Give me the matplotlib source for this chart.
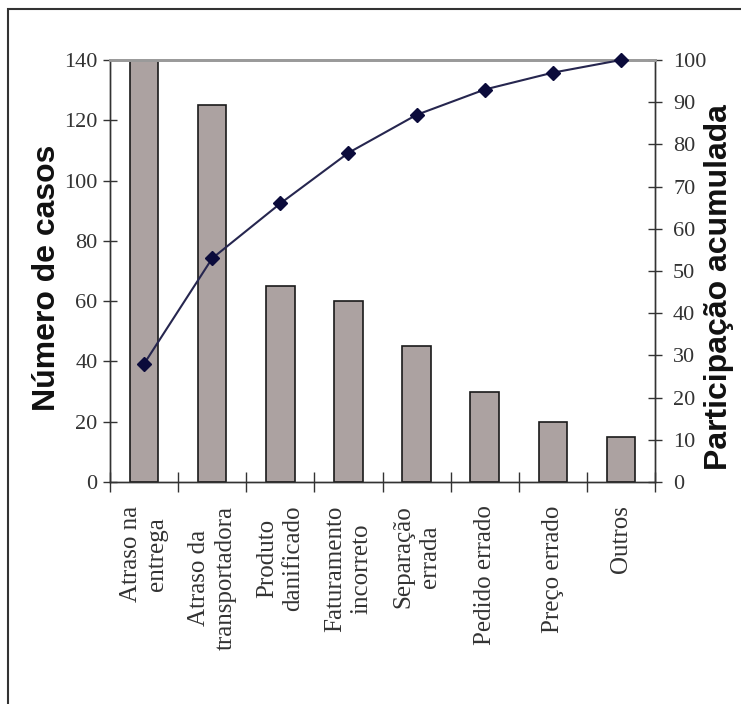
import numpy as np
import matplotlib.pyplot as plt
from matplotlib.patches import Rectangle

# Pareto data: complaint causes and number of cases
categorias = ["Atraso na\nentrega", "Atraso da\ntransportadora", "Produto\ndanificado",
              "Faturamento\nincorreto", "Separação\nerrada", "Pedido errado",
              "Preço errado", "Outros"]
casos = [140, 125, 65, 60, 45, 30, 20, 15]
acumulado = [28, 53, 66, 78, 87, 93, 97, 100]

serif = "Liberation Serif"
sans = "Liberation Sans"

fig = plt.figure(figsize=(7.41, 7.04), dpi=100)
ax = fig.add_axes([110/741, 1 - 482/704, 545/741, 422/704])
ax2 = ax.twinx()

x = np.arange(len(categorias))
ax.bar(x, casos, width=0.42, color="#aca2a1", edgecolor="#1a1a1a", linewidth=1.2, zorder=2)

ax.set_xlim(-0.5, len(categorias) - 0.5)
ax.set_ylim(0, 140)
ax.set_yticks(np.arange(0, 141, 20))
ax.set_yticklabels([str(v) for v in range(0, 141, 20)], fontfamily=serif, fontsize=16, color="#333333")

# ticks between categories, labels at the centres
ax.set_xticks(np.arange(-0.5, len(categorias)))
ax.set_xticklabels([])
ax.set_xticks(x, minor=True)
ax.set_xticklabels(categorias, minor=True, rotation=90, fontfamily=serif, fontsize=18,
                   color="#333333", va="top", ha="center", multialignment="center",
                   linespacing=1.25)
ax.tick_params(axis="x", which="major", direction="inout", length=15, width=1, color="#333333")
ax.tick_params(axis="x", which="minor", length=0, pad=17)
ax.tick_params(axis="y", direction="inout", length=10, width=1, color="#333333", pad=4)

ax2.plot(x, acumulado, color="#26264f", linewidth=1.5, marker="D", markersize=7.5,
         markerfacecolor="#0b0b3b", markeredgecolor="#0b0b3b", clip_on=False, zorder=3)
ax2.set_ylim(0, 100)
ax2.set_yticks(np.arange(0, 101, 10))
ax2.set_yticklabels([str(v) for v in range(0, 101, 10)], fontfamily=serif, fontsize=16, color="#333333")
ax2.tick_params(axis="y", direction="inout", length=10, width=1, color="#333333", pad=8)

for a in (ax, ax2):
    a.spines["top"].set_color("#9a9a9a")
    a.spines["top"].set_linewidth(2)
    for s in ("left", "right", "bottom"):
        a.spines[s].set_color("#333333")
        a.spines[s].set_linewidth(1)

fig.text(47/741, 1 - 278/704, "Número de casos", rotation=90, ha="center", va="center",
         fontfamily=sans, fontweight="bold", fontsize=23, color="#111111")
fig.text(719/741, 1 - 287/704, "Participação acumulada", rotation=90, ha="center", va="center",
         fontfamily=sans, fontweight="bold", fontsize=23, color="#111111")

# outer frame around the figure
fig.add_artist(Rectangle((8/741, -0.1), 1.0, 1 - 9/704 + 0.1, transform=fig.transFigure,
                         fill=False, edgecolor="#333333", linewidth=1.5))

fig.savefig("out.png", dpi=100, facecolor="white")
